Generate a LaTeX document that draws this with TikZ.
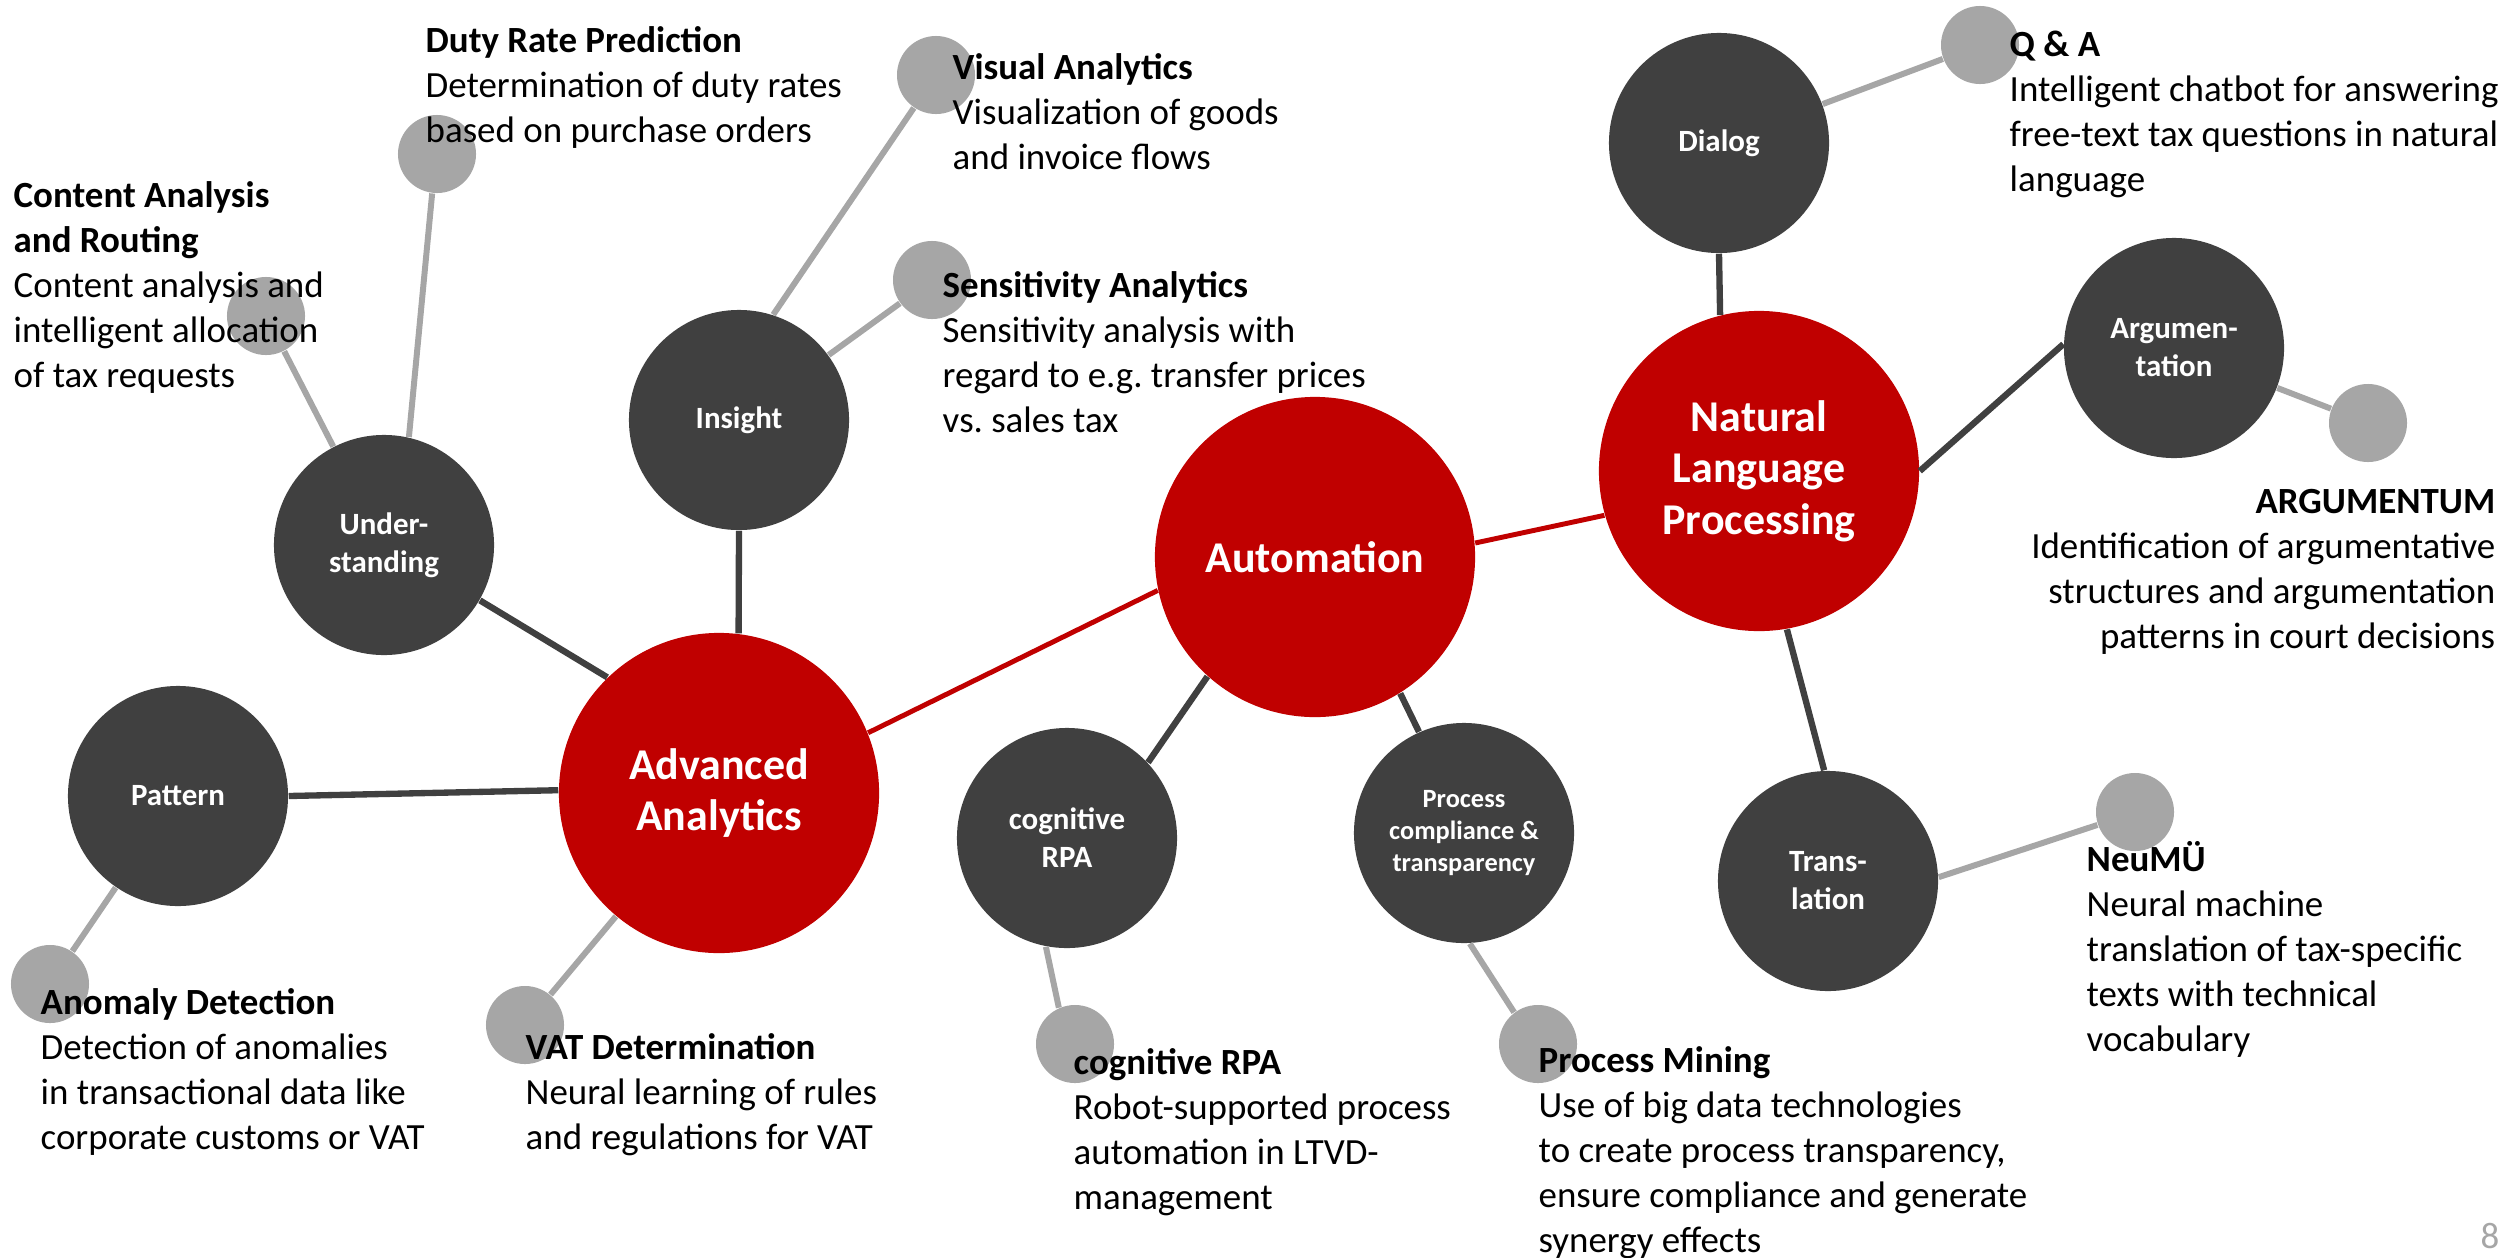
\documentclass[tikz,border=0pt]{standalone}
\usepackage{fontspec}
\setmainfont{Carlito}
\usepackage{tikz}
\usetikzlibrary{positioning}
\definecolor{hubred}{RGB}{192,0,0}
\definecolor{darknode}{RGB}{64,64,64}
\definecolor{leafgray}{RGB}{166,166,166}
\tikzstyle{hub}=[circle,fill=hubred,minimum size=3.2cm,inner sep=0pt,text=white,align=center,font=\bfseries\fontsize{12.5}{14.6}\selectfont]
\tikzstyle{topic}=[circle,fill=darknode,minimum size=2.2cm,inner sep=0pt,text=white,align=center,font=\bfseries\fontsize{8.8}{10.8}\selectfont]
\tikzstyle{leaf}=[circle,fill=leafgray,minimum size=0.78cm,inner sep=0pt]
\tikzstyle{desc}=[anchor=north west,inner sep=0pt,align=left,font=\fontsize{10.5}{12.8}\selectfont]
\tikzstyle{hubline}=[draw=hubred,line width=1.4pt]
\tikzstyle{topicline}=[draw=darknode,line width=1.8pt]
\tikzstyle{leafline}=[draw=leafgray,line width=1.7pt]
\frenchspacing

\begin{document}
\begin{tikzpicture}[x=0.01cm,y=-0.01cm]
\useasboundingbox (0,0) rectangle (2512,1257);
% main fields
\node [hub] (analytics) at (719,793) {Advanced\\Analytics};
\node [hub] (automation) at (1315,557) {Automation};
\node [hub] (nlp) at (1759,471) {Natural\\Language\\Processing};
% topics
\node [topic] (understanding) at (384,545) {Under-\\standing};
\node [topic] (insight) at (739,420) {Insight};
\node [topic] (pattern) at (178,796) {Pattern};
\node [topic] (cogrpa) at (1067,838) {cognitive\\RPA};
\node [topic,font=\bfseries\fontsize{7.5}{9.1}\selectfont] (compliance) at (1464,833) {Process\\compliance \&\\transparency};
\node [topic] (dialog) at (1719,143) {Dialog};
\node [topic] (argumentation) at (2174,348) {Argumen-\\tation};
\node [topic] (translation) at (1828,881) {Trans-\\lation};
% projects
\node [leaf] (content) at (266,316) {};
\node [leaf] (duty) at (437,154) {};
\node [leaf] (visual) at (936,75) {};
\node [leaf] (sensitivity) at (932,280) {};
\node [leaf] (anomaly) at (50,984) {};
\node [leaf] (vat) at (525,1025) {};
\node [leaf] (rpaleaf) at (1075,1044) {};
\node [leaf] (mining) at (1538,1044) {};
\node [leaf] (qa) at (1980,45) {};
\node [leaf] (argumentum) at (2368,423) {};
\node [leaf] (neumue) at (2135,812) {};

\path [hubline] (analytics.22) -- (automation.192) (automation.5) -- (nlp.196);
\path [topicline] (analytics.134) -- (understanding.-30) (analytics.83) -- (insight.south) (analytics.179) -- (pattern.east)
  (automation.228) -- (cogrpa.43) (automation.-58) -- (compliance.114)
  (nlp.104) -- (dialog.south) (nlp.east) -- (argumentation.178) (nlp.-80) -- (translation.92);
\path [leafline] (understanding) -- (content) (understanding.77) -- (duty.-97)
  (insight.72) -- (visual.-124) (insight) -- (sensitivity)
  (pattern) -- (anomaly) (analytics) -- (vat)
  (cogrpa.-101) -- (rpaleaf.114) (compliance.-87) -- (mining.127)
  (dialog) -- (qa) (argumentation) -- (argumentum) (translation.2) -- (neumue.199);

% descriptions
\node [desc] (dutytext) at (425,26) {\textbf{Duty Rate Prediction}\\Determination of duty rates\\based on purchase orders};
\node [desc] (contenttext) at (13,181) {\textbf{Content Analysis}\\\textbf{and Routing}\\Content analysis and\\intelligent allocation\\of tax requests};
\node [desc] (visualtext) at (952,53) {\textbf{Visual Analytics}\\Visualization of goods\\and invoice flows};
\node [desc] (sensitivitytext) at (942,271) {\textbf{Sensitivity Analytics}\\Sensitivity analysis with\\regard to e.g. transfer prices\\vs. sales tax};
\node [desc] (qatext) at (2009,30) {\textbf{Q \& A}\\Intelligent chatbot for answering\\free-text tax questions in natural\\language};
\node [desc,anchor=north east,align=right] (argumentumtext) at (2496,489) {\textbf{ARGUMENTUM}\\Identification of argumentative\\structures and argumentation\\patterns in court decisions};
\node [desc] (neumuetext) at (2086,841) {\textbf{NeuMÜ}\\Neural machine\\translation of tax-specific\\texts with technical\\vocabulary};
\node [desc] (anomalytext) at (40,988) {\textbf{Anomaly Detection}\\Detection of anomalies\\in transactional data like\\corporate customs or VAT};
\node [desc] (vattext) at (525,1033) {\textbf{VAT Determination}\\Neural learning of rules\\and regulations for VAT};
\node [desc] (rpatext) at (1073,1048) {\textbf{cognitive RPA}\\Robot-supported process\\automation in LTVD-\\management};
\node [desc] (miningtext) at (1538,1046) {\textbf{Process Mining}\\Use of big data technologies\\to create process transparency,\\ensure compliance and generate\\synergy effects};
\node [anchor=east,inner sep=0pt,text=leafgray,font=\fontsize{10.5}{12.8}\selectfont] (pagenum) at (2500,1236) {8};
\end{tikzpicture}
\end{document}
